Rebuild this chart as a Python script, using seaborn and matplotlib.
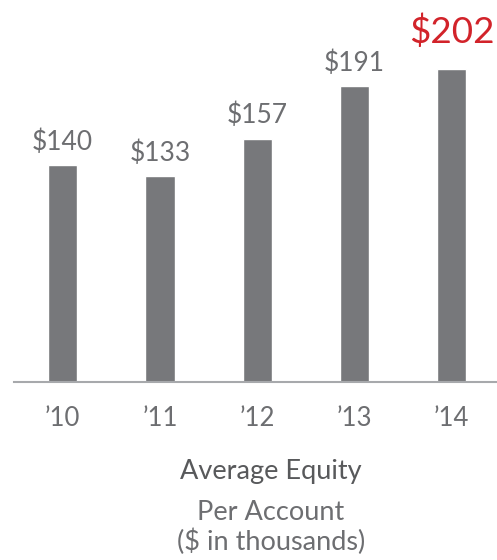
import matplotlib
matplotlib.use("Agg")
import matplotlib.pyplot as plt
import seaborn as sns
import pandas as pd

# --------------------------------------------------
# Data
# --------------------------------------------------
years = ["\u201910", "\u201911", "\u201912", "\u201913", "\u201914"]
equity = [140, 133, 157, 191, 202]
value_labels = ["$140", "$133", "$157", "$191", "$202"]

title_lines = ["Average Equity", "Per Account", "($ in thousands)"]

bar_color = "#77787b"
text_gray = "#6d6e71"
dark_gray = "#58595b"
red = "#d2232a"

sns.set_theme(style="white")
plt.rcParams["font.family"] = ["Lato", "DejaVu Sans"]

df = pd.DataFrame({"year": years, "equity": equity})

fig = plt.figure(figsize=(4.97, 5.6), dpi=100)
ax = fig.add_axes([14 / 497, (560 - 382) / 560, 483 / 497, 382 / 560])

sns.barplot(data=df, x="year", y="equity", color=bar_color, width=0.3,
            saturation=1, ax=ax)

ax.set_xlim(-0.5, 4.465)
ax.set_ylim(0, 246.3)

# value labels
for i, (v, lab) in enumerate(zip(equity, value_labels)):
    if i == len(equity) - 1:
        ax.text(i, v + 16.8, lab, ha="center", va="baseline",
                fontsize=26.5, color=red)
    else:
        ax.text(i, v + 9.7, lab, ha="center", va="baseline",
                fontsize=19, color=text_gray)

sns.despine(ax=ax, left=True, top=True, right=True)
ax.spines["bottom"].set_color("#a7a9ac")
ax.spines["bottom"].set_linewidth(1.5)
ax.set_yticks([])
ax.set_xlabel("")
ax.set_ylabel("")
ax.tick_params(axis="x", length=0, pad=17, labelsize=18.5, labelcolor=text_gray)

# caption under the chart
fig.text(271 / 497, 1 - 479 / 560, title_lines[0], ha="center", va="baseline",
         fontsize=19.5, color=dark_gray)
fig.text(271 / 497, 1 - 520 / 560, title_lines[1], ha="center", va="baseline",
         fontsize=19.5, color=text_gray)
fig.text(271 / 497, 1 - 550 / 560, title_lines[2], ha="center", va="baseline",
         fontsize=19.5, color=text_gray)

fig.savefig("out.png", dpi=100)
